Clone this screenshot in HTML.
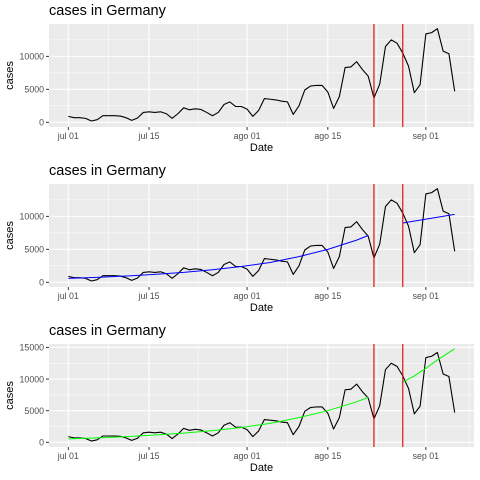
<!DOCTYPE html>
<html><head><meta charset="utf-8">
<style>
body{margin:0;background:#fff;}
svg{display:block;font-family:"Liberation Sans",sans-serif;}
</style></head>
<body>
<svg id="chart" width="480" height="480" viewBox="0 0 480 480"></svg>
<script>
const caseValues = [900,700,700,600,200,400,1000,1000,1000,950,700,300,650,1500,1600,1500,1600,1300,600,1300,2200,1900,2050,1950,1500,1000,1500,2700,3100,2400,2400,2000,900,1800,3600,3500,3400,3200,3100,1200,2500,4900,5500,5600,5600,4600,2100,3900,8300,8400,9200,8000,7000,3700,5800,11500,12500,12000,10500,8500,4500,5700,13400,13600,14200,10800,10400,4700];
const xTickDays = [0,14,31,45,62];
const xTickLabels = ["jul 01","jul 15","ago 01","ago 15","sep 01"];
const xMinorDays = [7,22.5,38,53.5,69.5];
const redLineDays = [53,58];
const blueFit1Days = [0,5,10,15,20,25,30,35,40,45,50,52];
const blueFit1Vals = [600,750,950,1200,1500,1900,2400,3000,3900,5000,6400,7100];
const blueFit2Days = [58,67];
const blueFit2Vals = [9000,10300];
const greenFit1Days = [0,5,10,15,20,25,30,35,40,45,50,52];
const greenFit1Vals = [550,700,900,1150,1450,1850,2350,3000,3900,5000,6400,7100];
const greenFit2Days = [58,60,62,64,67];
const greenFit2Vals = [9500,10500,11700,13000,14800];
const yTicksA = [0,5000,10000];
const yTicksC = [0,5000,10000,15000];

const NS="http://www.w3.org/2000/svg";
const svg=document.getElementById('chart');
function el(tag,attrs,parent){const e=document.createElementNS(NS,tag);for(const k in attrs)e.setAttribute(k,attrs[k]);(parent||svg).appendChild(e);return e;}

const PX0=49, PX1=474, DMIN=-3.35, DMAX=70.35;
function xs(d){return PX0+(d-DMIN)/(DMAX-DMIN)*(PX1-PX0);}

function panel(idx, top, ymin, ymax, yTicks, fits){
  const bottom=top+103;
  const ys=v=>bottom-(v-ymin)/(ymax-ymin)*(bottom-top);
  const g=el('g',{});
  
  
  const t=el('text',{x:49,y:top-9,'font-size':14.5,fill:'#000'},g);
  t.textContent='cases in Germany';
  
  
  const bg=el('rect',{x:PX0,y:top,width:PX1-PX0,height:bottom-top,fill:'#ebebeb'},g);
  
  
  // minor y grid
  for(let i=0;i<yTicks.length;i++){
    const v=yTicks[i]+2500;
    if(v<ymax){const l=el('line',{x1:PX0,x2:PX1,y1:ys(v),y2:ys(v),stroke:'#fff','stroke-width':0.5},g);
      }
  }
  xMinorDays.forEach(d=>{const x=xs(d);if(x<PX1){const l=el('line',{x1:x,x2:x,y1:top,y2:bottom,stroke:'#fff','stroke-width':0.5},g);
    }});
  yTicks.forEach(v=>{
    const y=ys(v);
    const l=el('line',{x1:PX0,x2:PX1,y1:y,y2:y,stroke:'#fff','stroke-width':1.1},g);
    
    el('line',{x1:PX0-3,x2:PX0,y1:y,y2:y,stroke:'#333','stroke-width':1},g);
    const tx=el('text',{x:PX0-5,y:y+3.2,'font-size':8.8,fill:'#4d4d4d','text-anchor':'end'},g);
    tx.textContent=v;
    
  });
  xTickDays.forEach((d,i)=>{
    const x=xs(d);
    const l=el('line',{x1:x,x2:x,y1:top,y2:bottom,stroke:'#fff','stroke-width':1.1},g);
    
    el('line',{x1:x,x2:x,y1:bottom,y2:bottom+3,stroke:'#333','stroke-width':1},g);
    const tx=el('text',{x:x,y:bottom+12,'font-size':8.8,fill:'#4d4d4d','text-anchor':'middle'},g);
    tx.textContent=xTickLabels[i];
    
  });
  const pts=caseValues.map((v,i)=>xs(i).toFixed(2)+','+ys(v).toFixed(2)).join(' ');
  const line=el('polyline',{points:pts,fill:'none',stroke:'#000','stroke-width':1.1,'stroke-linejoin':'round'},g);
  
  fits.forEach(f=>{
    const p=f.days.map((d,i)=>xs(d).toFixed(2)+','+ys(f.vals[i]).toFixed(2)).join(' ');
    const fl=el('polyline',{points:p,fill:'none',stroke:f.color,'stroke-width':1},g);
    
  });
  redLineDays.forEach(d=>{
    const r=el('line',{x1:xs(d),x2:xs(d),y1:top,y2:bottom,stroke:'#e00000','stroke-width':1.1},g);
    
  });
  const xl=el('text',{x:(PX0+PX1)/2,y:bottom+24,'font-size':11,fill:'#000','text-anchor':'middle'},g);
  xl.textContent='Date';
  
  const yl=el('text',{x:0,y:0,'font-size':11,fill:'#000','text-anchor':'middle',transform:`translate(13,${(top+bottom)/2}) rotate(-90)`},g);
  yl.textContent='cases';
  
}
panel(0,24,-710,14910,yTicksA,[]);
panel(1,184,-710,14910,yTicksA,[{days:blueFit1Days,vals:blueFit1Vals,color:'#0000ff'},{days:blueFit2Days,vals:blueFit2Vals,color:'#0000ff'}]);
panel(2,344,-740,15540,yTicksC,[{days:greenFit1Days,vals:greenFit1Vals,color:'#00ff00'},{days:greenFit2Days,vals:greenFit2Vals,color:'#00ff00'}]);
</script>
</body></html>
